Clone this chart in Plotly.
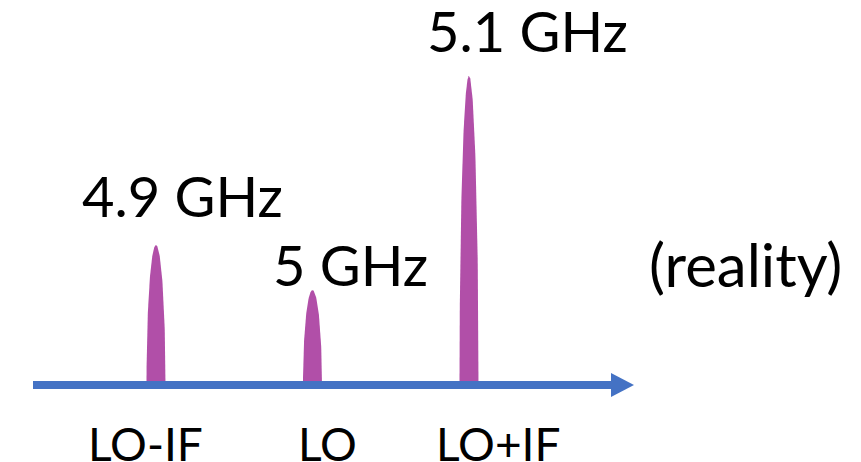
import numpy as np
import plotly.graph_objects as go

# Spectrum after mixing: lower sideband, carrier leak, upper sideband
freq_ghz = [4.9, 5.0, 5.1]
amplitude = [0.453, 0.307, 1.0]
freq_labels = ["4.9 GHz", "5 GHz", "5.1 GHz"]
band_labels = ["LO-IF", "LO", "LO+IF"]
note = "(reality)"

PURPLE = "#B14FA8"
BLUE = "#4472C4"
FONT = "Lato, 'Open Sans', sans-serif"

W, H = 861, 462
PX_PER_GHZ = 1565.0          # horizontal scale
PX_PER_UNIT = 309.0          # vertical scale
x0 = 4.9 - 156 / PX_PER_GHZ  # left edge of the plotting area
y0 = -(H - 385) / PX_PER_UNIT
x_range = [x0, x0 + W / PX_PER_GHZ]
y_range = [y0, y0 + H / PX_PER_UNIT]

def px_x(p):
    return x0 + p / PX_PER_GHZ

half_width = 9.5 / PX_PER_GHZ

fig = go.Figure()

# spectral lines as tall half-ellipses
t = np.linspace(0, np.pi, 120)
for f, a in zip(freq_ghz, amplitude):
    fig.add_trace(go.Scatter(
        x=f + half_width * np.cos(t), y=a * np.sin(t),
        mode="lines", fill="toself", fillcolor=PURPLE,
        line=dict(width=0, color=PURPLE), hoverinfo="skip", showlegend=False))

# frequency axis arrow
shaft_start, head_base, head_tip = px_x(33), px_x(611), px_x(634)
head_half = 12 / PX_PER_UNIT
fig.add_trace(go.Scatter(
    x=[shaft_start, head_base + 1 / PX_PER_GHZ], y=[0, 0], mode="lines",
    line=dict(color=BLUE, width=8), hoverinfo="skip", showlegend=False))
fig.add_trace(go.Scatter(
    x=[head_base, head_tip, head_base, head_base], y=[head_half, 0, -head_half, head_half],
    mode="lines", fill="toself", fillcolor=BLUE,
    line=dict(width=0, color=BLUE), hoverinfo="skip", showlegend=False))

# frequency labels above each line
label_shift = [(26, 14), (38, -10), (58, 10)]
for f, a, txt, (dx, dy) in zip(freq_ghz, amplitude, freq_labels, label_shift):
    fig.add_annotation(x=f, y=a, text=txt, showarrow=False,
                       xanchor="center", yanchor="bottom", xshift=dx, yshift=dy,
                       font=dict(family=FONT, size=56, color="black"))

# sideband names under the axis
band_shift = [-10.5, 14.5, 28.5]
for f, txt, dx in zip(freq_ghz, band_labels, band_shift):
    fig.add_annotation(x=f, y=0, text=txt, showarrow=False,
                       xanchor="center", yanchor="top", xshift=dx, yshift=-29,
                       font=dict(family=FONT, size=46, color="black"))

fig.add_annotation(x=px_x(745.5), y=(385 - 264) / PX_PER_UNIT, text=note, showarrow=False,
                   xanchor="center", yanchor="middle",
                   font=dict(family=FONT, size=60, color="black"))

fig.update_layout(
    width=W, height=H, margin=dict(l=0, r=0, t=0, b=0),
    paper_bgcolor="white", plot_bgcolor="white",
    xaxis=dict(range=x_range, visible=False, fixedrange=True),
    yaxis=dict(range=y_range, visible=False, fixedrange=True),
)

fig.write_html("out.html")
